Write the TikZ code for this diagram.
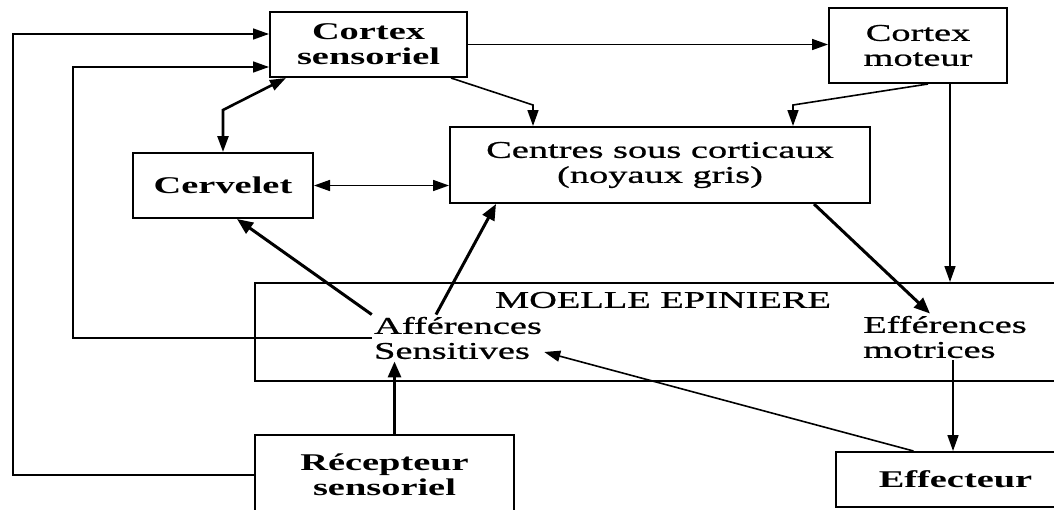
\documentclass[tikz,border=0pt]{standalone}
\usepackage{fontspec}
\setmainfont{Liberation Serif}[FakeStretch=1.6, UprightFeatures={FakeBold=0.8}]
\usetikzlibrary{calc,arrows.meta}
\tikzset{
	every node/.style={font=\fontsize{12}{12.5}\selectfont},
	boite/.style={draw, line width=1pt, inner sep=0pt, align=center},
	texte/.style={inner sep=1pt, align=left},
	fleche/.style={line width=0.8pt, -{Triangle[length=8pt,width=5.5pt]}},
	grosse/.style={line width=1.5pt, -{Triangle[length=8pt,width=6.5pt]}},
	double/.style={line width=0.8pt, {Triangle[length=8pt,width=5.5pt]}-{Triangle[length=8pt,width=5.5pt]}},
}

\begin{document}
\begin{tikzpicture}[x=0.5pt, y=-0.5pt]
			%%%%% START %%%%%
			\useasboundingbox (0,0) rectangle (1054,509);
			
			% boites
			\node[boite, minimum width=98.5pt, minimum height=32.5pt, font=\fontsize{12}{12.5}\selectfont\bfseries] (cortexs) at (368.5,44.5) {Cortex\\sensoriel};
			\node[boite, minimum width=89pt, minimum height=37.5pt] (cortexm) at (918,45.5) {Cortex\\moteur};
			\node[boite, minimum width=210pt, minimum height=38pt] (centres) at (660,165) {Centres sous corticaux\\(noyaux gris)};
			\node[boite, minimum width=90pt, minimum height=32.5pt, font=\fontsize{12}{12.5}\selectfont\bfseries] (cervelet) at (223,185.5) {Cervelet};
			\node[boite, minimum width=410pt, minimum height=49pt] (moelle) at (665,332) {};
			\node[boite, minimum width=129.5pt, minimum height=40pt, font=\fontsize{12}{12.5}\selectfont\bfseries] (recep) at (384.5,475) {Récepteur\\sensoriel};
			\node[boite, minimum width=119.5pt, minimum height=27.5pt, font=\fontsize{12}{12.5}\selectfont\bfseries] (effect) at (955.5,479.5) {Effecteur};
			
			% textes dans la moelle
			\node (moelletxt) at (663,300) {MOELLE EPINIERE};
			\node[texte] (aff) at (458,338) {Afférences\\Sensitives};
			\node[texte] (eff) at (945,337) {Efférences\\motrices};
			
			\coordinate (boucleA) at (13,300);
			\coordinate (boucleB) at (73,300);
			\coordinate (coudeA) at (533,105);
			\coordinate (coudeB) at (793,105);
			\coordinate (coudeC) at (223,110);
			
			% boucles de gauche
			\draw[fleche] (recep.west) -| (boucleA) |- ([yshift=5.25pt]cortexs.west);
			\draw[fleche] (aff.west) -| (boucleB) |- ([yshift=-11.25pt]cortexs.west);
			
			% cortex
			\draw[fleche] (cortexs.east) -- (cortexs.east -| cortexm.west);
			\draw[fleche] ([xshift=-8.5pt]cortexs.south east) -- (coudeA) -- (coudeA |- centres.north);
			\draw[fleche] ([xshift=5pt]cortexm.south) -- (coudeB) -- (coudeB |- centres.north);
			\draw[fleche] ([xshift=16pt]cortexm.south) -- ([xshift=16pt]cortexm.south |- moelle.north);
			\draw[double, line width=1.3pt] (cervelet.north) -- (coudeC) -- ([xshift=8.5pt]cortexs.south west);
			\draw[double] (cervelet.east) -- (cervelet.east -| centres.west);
			
			% moelle
			\draw[grosse] (aff.north west) -- ([xshift=7pt]cervelet.south);
			\draw[grosse] ([xshift=-11pt]aff.north) -- ([xshift=23.5pt]centres.south west);
			\draw[grosse] ([xshift=-28.5pt]centres.south east) -- ([xshift=-7.5pt]eff.north);
			\draw[fleche] ([xshift=4pt]eff.south) -- ([xshift=4pt]eff.south |- effect.north);
			\draw[fleche] ([xshift=-21pt]effect.north) -- ([yshift=-7pt]aff.east);
			\draw[grosse] ([xshift=5pt]recep.north) -- ([xshift=5pt]recep.north |- aff.south);
			
			%%%%% END %%%%%
		\end{tikzpicture}
\end{document}
